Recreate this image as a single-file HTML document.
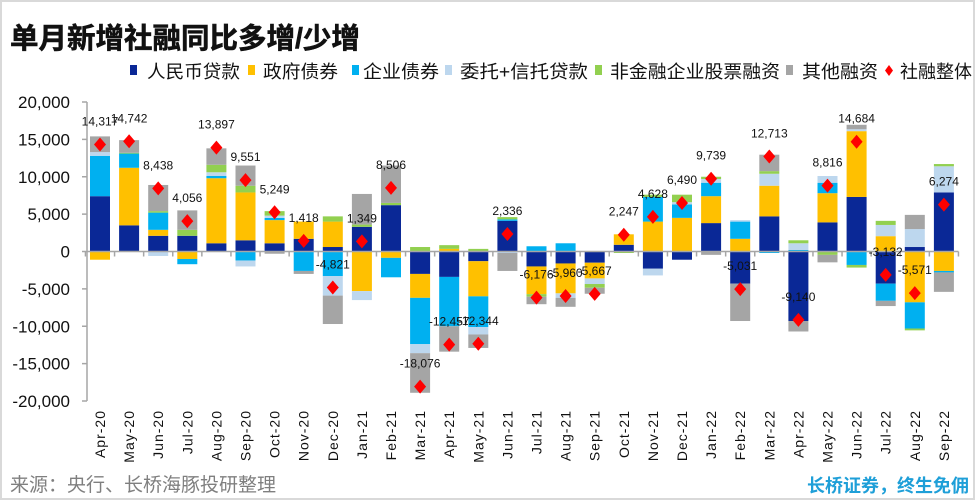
<!DOCTYPE html>
<html><head><meta charset="utf-8">
<style>
html,body{margin:0;padding:0;background:#fff;}
#wrap{position:relative;width:975px;height:500px;box-sizing:border-box;border:2px solid #d9d9d9;overflow:hidden;font-family:"Liberation Sans","Noto Sans CJK SC",sans-serif;}
svg{position:absolute;left:0;top:0;}
</style></head>
<body>
<div id="wrap">
<svg id="chart" width="975" height="500"></svg>
</div>
<script>
const categories=["Apr-20","May-20","Jun-20","Jul-20","Aug-20","Sep-20","Oct-20","Nov-20","Dec-20","Jan-21","Feb-21","Mar-21","Apr-21","May-21","Jun-21","Jul-21","Aug-21","Sep-21","Oct-21","Nov-21","Dec-21","Jan-22","Feb-22","Mar-22","Apr-22","May-22","Jun-22","Jul-22","Aug-22","Sep-22"];
const loans=[7400,3500,2100,2100,1100,1500,1100,1700,600,3300,6200,-3000,-3400,-1300,4100,-2000,-1600,-1500,900,-2300,-1100,3800,-4300,4700,-9300,3900,7300,-4300,600,7900];
const govBonds=[-1100,7700,800,-1000,8700,6400,3100,2300,3400,-5300,-850,-3200,350,-4700,0,-3700,-4000,-2100,1400,4000,4500,3600,1700,4100,0,3900,8800,2050,-6800,-2600];
const corpBonds=[5400,1900,2300,-700,300,-1200,300,-2600,-3300,0,-2600,-6200,-6600,-4100,200,700,1100,0,0,3300,1800,1800,2300,-200,200,1400,-1800,-2300,-3500,-200];
const trustLoans=[500,0,-600,0,500,-800,300,0,-2600,-1200,0,-1200,0,-1000,-200,0,-600,-750,0,-900,300,500,200,1600,900,900,250,1500,2400,3500];
const equity=[0,100,200,800,1000,900,600,0,700,300,300,600,500,350,300,-350,0,-500,-200,300,1000,300,0,350,400,-450,-350,550,-250,300];
const other=[2100,1700,3500,2600,2200,2700,-300,-400,-3800,4100,5000,-5300,-3400,-1800,-2400,-1000,-1200,-800,0,0,0,-450,-5000,2200,-1400,-1000,600,-700,1900,-2600];
const totals=[14317,14742,8438,4056,13897,9551,5249,1418,-4821,1349,8506,-18076,-12457,-12344,2336,-6176,-5960,-5667,2247,4628,6490,9739,-5031,12713,-9140,8816,14684,-3132,-5571,6274];
const yTicks=[20000,15000,10000,5000,0,-5000,-10000,-15000,-20000];
const seriesNames=["人民币贷款","政府债券","企业债券","委托+信托贷款","非金融企业股票融资","其他融资","社融整体"];

const series=[loans,govBonds,corpBonds,trustLoans,equity,other];
const colors=["#0a2896","#ffc000","#00b0f0","#bdd7ee","#92d050","#a5a5a5"];
const keys=["loans","gov-bonds","corp-bonds","trust-loans","equity","other"];
const NS="http://www.w3.org/2000/svg";
const svg=document.getElementById('chart');
function el(t,a,p){const e=document.createElementNS(NS,t);for(const k in a)e.setAttribute(k,a[k]);(p||svg).appendChild(e);return e;}
const y0=249.5, pxPer=149.5/20000;
function yS(v){return y0-v*pxPer;}
const x0=98, step=29.1, bw=20;
function xS(i){return x0+i*step;}

// title
let t=el('text',{x:8,y:46,'font-size':28.5,'font-weight':'bold',fill:'#111',stroke:'#111','stroke-width':0.6});
t.textContent="单月新增社融同比多增/少增";



// legend
const legX=[128,246,350,443,593,784,884];
const legTX=[145,261,361,458,608,800,898];
const legW=[93,75,76,128,170,76,72];
const legG=el('g',{});


seriesNames.forEach((n,i)=>{
  const g=el('g',{},legG);
  
  
  if(i<6){el('rect',{x:legX[i],y:63,width:7,height:10,fill:colors[i]},g);}
  else{el('path',{d:`M${legX[i]+3},63 l4,5.5 l-4,5.5 l-4,-5.5z`,fill:'#ff0000'},g);}
  const tx=el('text',{x:legTX[i],y:76,'font-size':18,fill:'#111',textLength:legW[i],lengthAdjust:'spacingAndGlyphs'},g);tx.textContent=n;
});

// axis
const ax=el('g',{});


el('line',{x1:85,y1:yS(20000),x2:85,y2:yS(-20000),stroke:'#a6a6a6','stroke-width':1.5},ax);
yTicks.forEach(v=>{
  el('line',{x1:80,y1:yS(v),x2:85,y2:yS(v),stroke:'#a6a6a6','stroke-width':1.5},ax);
  const tx=el('text',{x:68,y:yS(v)+6,'font-size':17,'text-anchor':'end',fill:'#111'},ax);
  tx.textContent=v.toLocaleString('en-US');
});
// bars
const barsG=el('g',{});


categories.forEach((c,i)=>{
  let pos=0,neg=0;
  series.forEach((s,k)=>{
    const v=s[i]; if(!v)return;
    let top,bot;
    if(v>0){bot=pos;pos+=v;top=pos;}else{top=neg;neg+=v;bot=neg;}
    const r=el('rect',{x:xS(i)-bw/2,y:yS(top),width:bw,height:Math.max(0.5,yS(bot)-yS(top)),fill:colors[k]},barsG);
    
    
  });
});
// x axis
const xa=el('g',{});


el('line',{x1:85,y1:y0,x2:xS(29)+step/2,y2:y0,stroke:'#a6a6a6','stroke-width':1.5},xa);
for(let i=0;i<=30;i++){el('line',{x1:xS(i)-step/2,y1:y0,x2:xS(i)-step/2,y2:y0+5,stroke:'#a6a6a6','stroke-width':1.5},xa);}
categories.forEach((c,i)=>{
  const tx=el('text',{x:0,y:0,'font-size':14,'text-anchor':'end',fill:'#111',transform:`translate(${xS(i)+5},${408}) rotate(-90)`,'letter-spacing':'1'},xa);
  tx.textContent=c;
});
// diamonds + labels
const tg=el('g',{});


totals.forEach((v,i)=>{
  const cx=xS(i),cy=yS(v);
  const d=el('path',{d:`M${cx},${cy-7} l6,7 l-6,7 l-6,-7z`,fill:'#ff0000'},tg);
  
  
  const tx=el('text',{x:cx,y:cy-19,'font-size':12,'text-anchor':'middle',fill:'#111'},tg);
  tx.textContent=v.toLocaleString('en-US');
});
// footer
let s=el('text',{x:8,y:489,'font-size':19,fill:'#7f7f7f'});
s.textContent="来源：央行、长桥海豚投研整理";


let b=el('text',{x:967,y:490,'font-size':18,'font-weight':'bold','text-anchor':'end',fill:'#1e9fd8'});
b.textContent="长桥证券，终生免佣";


</script>
</body></html>
